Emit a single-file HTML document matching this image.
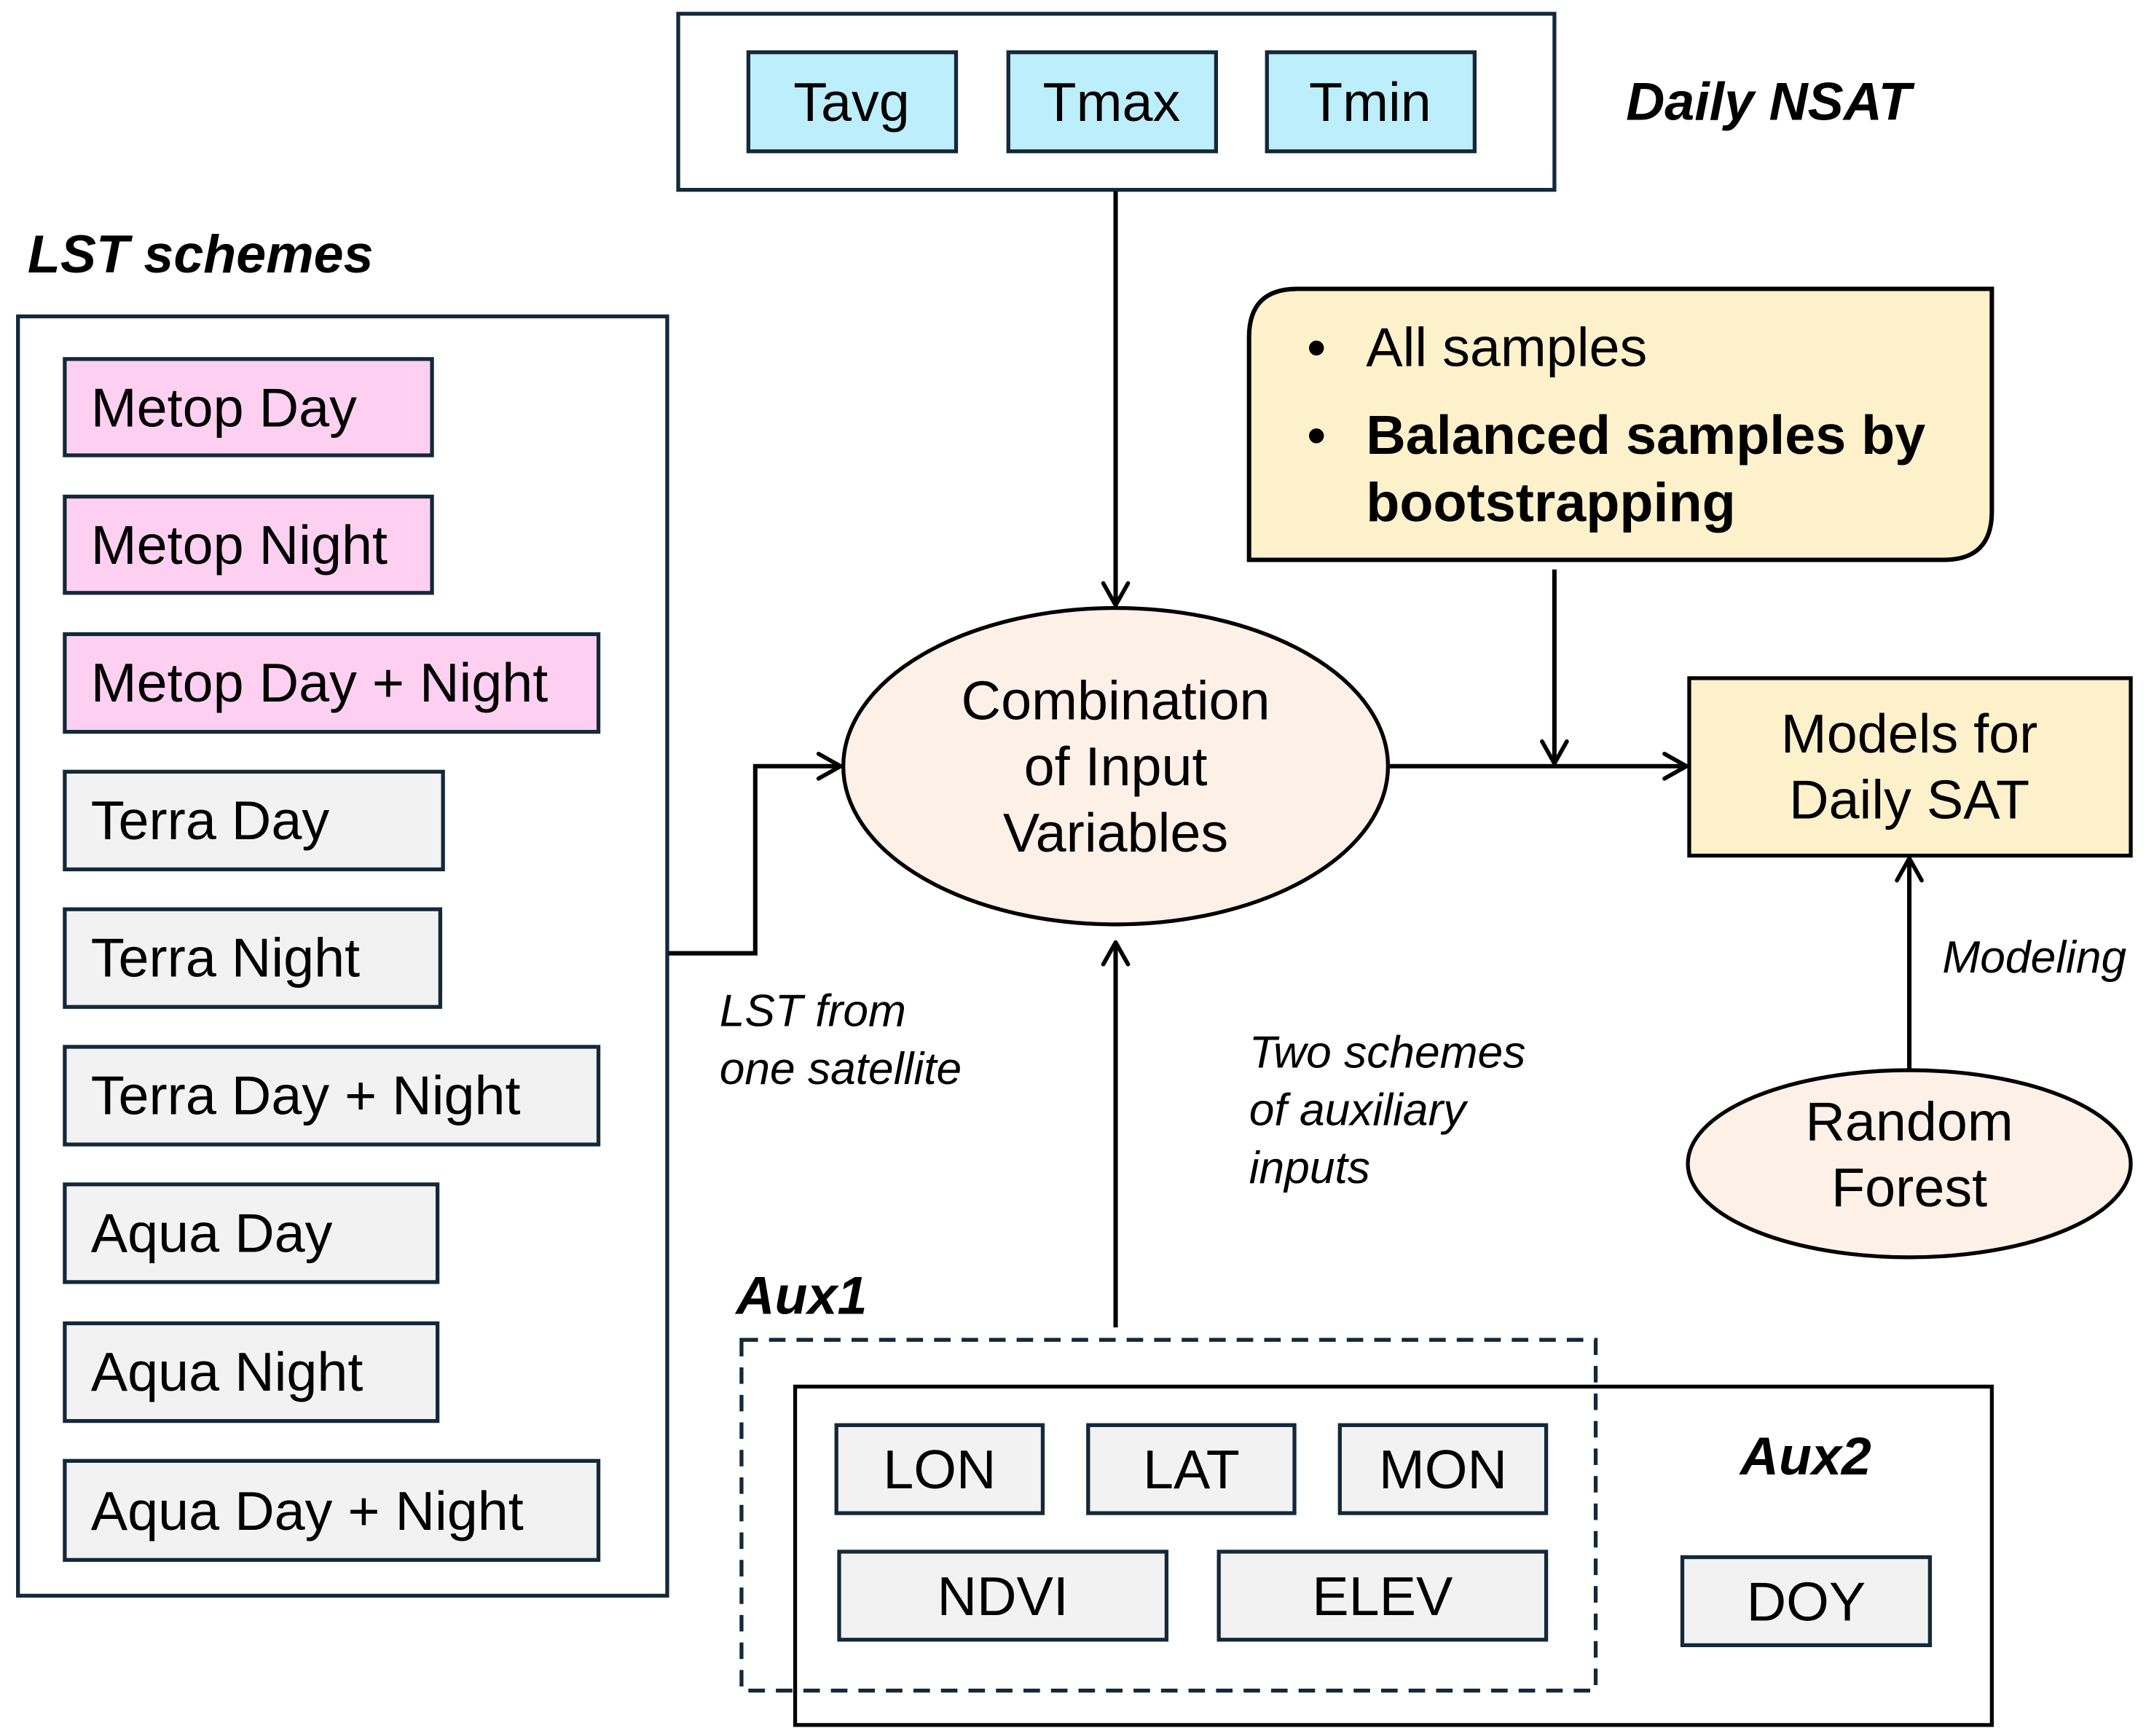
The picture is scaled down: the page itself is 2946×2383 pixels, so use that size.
<!DOCTYPE html>
<html><head><meta charset="utf-8"><style>
html,body{margin:0;padding:0;background:#fff;}
svg{display:block;}
text{font-family:"Liberation Sans",Arial,sans-serif;fill:#000;}
</style></head><body>
<svg width="2946" height="2383" viewBox="0 0 1560 1262" xmlns="http://www.w3.org/2000/svg">
<defs>
<marker id="ah" viewBox="0 0 24 24" refX="21" refY="12" markerWidth="24" markerHeight="24" markerUnits="userSpaceOnUse" orient="auto">
<path d="M5,3 L21,12 L5,21" fill="none" stroke="#000" stroke-width="3" stroke-linecap="round" stroke-linejoin="round"/>
</marker>
</defs>
<g stroke="#13283a" stroke-width="2.8">
<rect x="493" y="10" width="637" height="128" fill="#fff"/>
<rect x="544" y="38" width="151" height="72" fill="#bdeefb"/>
<rect x="733" y="38" width="151" height="72" fill="#bdeefb"/>
<rect x="921" y="38" width="151" height="72" fill="#bdeefb"/>
<rect x="13" y="230" width="472" height="930" fill="#fff"/>
<rect x="47" y="261" width="267" height="70" fill="#fdd0f1"/>
<rect x="47" y="361" width="267" height="70" fill="#fdd0f1"/>
<rect x="47" y="461" width="388" height="71" fill="#fdd0f1"/>
<rect x="47" y="561" width="275" height="71" fill="#f2f2f2"/>
<rect x="47" y="661" width="273" height="71" fill="#f2f2f2"/>
<rect x="47" y="761" width="388" height="71" fill="#f2f2f2"/>
<rect x="47" y="861" width="271" height="71" fill="#f2f2f2"/>
<rect x="47" y="962" width="271" height="71" fill="#f2f2f2"/>
<rect x="47" y="1062" width="388" height="72" fill="#f2f2f2"/>
<ellipse cx="811" cy="557" rx="198" ry="115" fill="#fdf0e7" stroke="#000"/>
<ellipse cx="1388" cy="846" rx="161" ry="68" fill="#fdf0e7" stroke="#000"/>
<path d="M943,210 L1448,210 L1448,372 Q1448,407 1413,407 L908,407 L908,245 Q908,210 943,210 Z" fill="#fdf1cb" stroke="#000" stroke-width="3.2"/>
<rect x="1228" y="493" width="321" height="129" fill="#fdf1cb" stroke="#000"/>
<rect x="578" y="1008" width="870" height="246" fill="none" stroke="#000"/>
<rect x="539" y="974" width="621" height="255" fill="none" stroke-dasharray="12,8"/>
<rect x="608" y="1036" width="150" height="64" fill="#f2f2f2"/>
<rect x="791" y="1036" width="150" height="64" fill="#f2f2f2"/>
<rect x="974" y="1036" width="150" height="64" fill="#f2f2f2"/>
<rect x="610" y="1128" width="238" height="64" fill="#f2f2f2"/>
<rect x="886" y="1128" width="238" height="64" fill="#f2f2f2"/>
<rect x="1223" y="1132" width="180" height="64" fill="#f2f2f2"/>
</g>
<g stroke="#000" stroke-width="3.2" fill="none">
<line x1="811" y1="139" x2="811" y2="440" marker-end="url(#ah)"/>
<polyline points="486,693 549,693 549,557 611,557" marker-end="url(#ah)"/>
<line x1="1010" y1="557" x2="1226" y2="557" marker-end="url(#ah)"/>
<line x1="1130" y1="414" x2="1130" y2="555" marker-end="url(#ah)"/>
<line x1="1388" y1="778" x2="1388" y2="624" marker-end="url(#ah)"/>
<line x1="811" y1="965" x2="811" y2="685" marker-end="url(#ah)"/>
</g>
<g font-size="40">
<text x="619" y="88" text-anchor="middle">Tavg</text>
<text x="808" y="88" text-anchor="middle">Tmax</text>
<text x="996" y="88" text-anchor="middle">Tmin</text>
<text x="66" y="310">Metop Day</text>
<text x="66" y="410">Metop Night</text>
<text x="66" y="510">Metop Day + Night</text>
<text x="66" y="610">Terra Day</text>
<text x="66" y="710">Terra Night</text>
<text x="66" y="810">Terra Day + Night</text>
<text x="66" y="910">Aqua Day</text>
<text x="66" y="1011">Aqua Night</text>
<text x="66" y="1112">Aqua Day + Night</text>
<text x="811" y="523" text-anchor="middle">Combination</text>
<text x="811" y="571" text-anchor="middle">of Input</text>
<text x="811" y="619" text-anchor="middle">Variables</text>
<text x="1388" y="547" text-anchor="middle">Models for</text>
<text x="1388" y="595" text-anchor="middle">Daily SAT</text>
<text x="1388" y="829" text-anchor="middle">Random</text>
<text x="1388" y="877" text-anchor="middle">Forest</text>
<text x="950" y="266">•</text>
<text x="993" y="266">All samples</text>
<text x="950" y="330">•</text>
<text x="993" y="330" font-weight="bold">Balanced samples by</text>
<text x="993" y="379" font-weight="bold">bootstrapping</text>
<text x="683" y="1082" text-anchor="middle">LON</text>
<text x="866" y="1082" text-anchor="middle">LAT</text>
<text x="1049" y="1082" text-anchor="middle">MON</text>
<text x="729" y="1174" text-anchor="middle">NDVI</text>
<text x="1005" y="1174" text-anchor="middle">ELEV</text>
<text x="1313" y="1178" text-anchor="middle">DOY</text>
</g>
<g font-size="39" font-weight="bold" font-style="italic">
<text x="1182" y="87">Daily NSAT</text>
<text x="20" y="198">LST schemes</text>
<text x="535" y="955">Aux1</text>
<text x="1265" y="1072">Aux2</text>
</g>
<g font-size="33" font-style="italic">
<text x="523" y="746">LST from</text>
<text x="523" y="788">one satellite</text>
<text x="908" y="776">Two schemes</text>
<text x="908" y="818">of auxiliary</text>
<text x="908" y="860">inputs</text>
<text x="1412" y="707">Modeling</text>
</g>
</svg>
</body></html>
